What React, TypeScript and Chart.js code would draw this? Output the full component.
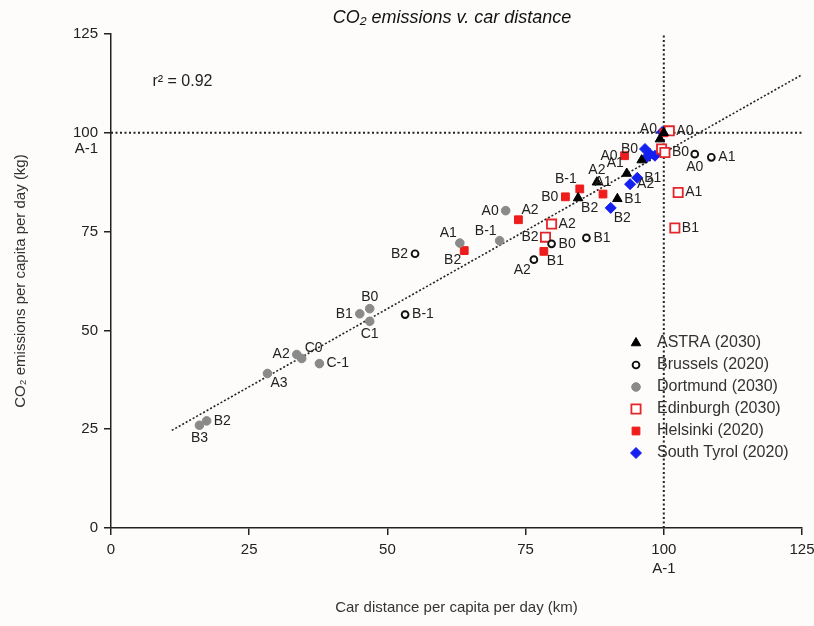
import React, { useEffect, useRef } from 'react';
import { Chart, registerables } from 'chart.js';

Chart.register(...registerables);

const FONT = '"Liberation Sans", Arial, Helvetica, sans-serif';

const chartTitle = 'CO₂ emissions v. car distance';
const xTitle = 'Car distance per capita per day (km)';
const yTitle = 'CO₂ emissions per capita per day (kg)';
const rSquaredText = 'r² = 0.92';
const rSquaredPos = [7.5, 113];
const refLabel = 'A-1';
const refValue = 100;
const axisMin = 0;
const axisMax = 125;
const axisStep = 25;

const seriesNames = ['ASTRA (2030)', 'Brussels (2020)', 'Dortmund (2030)', 'Edinburgh (2030)', 'Helsinki (2020)', 'South Tyrol (2020)'];

const astraX = [100, 99.3, 96.0, 93.3, 87.9, 91.6, 84.5];
const astraY = [100, 98.4, 93.1, 89.7, 87.5, 83.3, 83.5];
const astraLabels = ['', 'A0', '', 'A1', 'A2', 'B1', 'B2'];
const astraPlace = ['', 'tl', '', 'tl', 't', 'r', 'br'];

const brusselsX = [105.6, 108.6, 86.0, 79.7, 76.5, 55.0, 53.2];
const brusselsY = [94.6, 93.8, 73.4, 71.9, 67.9, 69.4, 54.0];
const brusselsLabels = ['A0', 'A1', 'B1', 'B0', 'A2', 'B2', 'B-1'];
const brusselsPlace = ['b', 'r', 'r', 'r', 'bl', 'l', 'r'];

const dortmundX = [71.4, 70.3, 63.1, 46.8, 45.0, 46.8, 33.6, 34.5, 37.7, 28.3, 17.3, 16.0];
const dortmundY = [80.3, 72.7, 72.1, 55.5, 54.2, 52.3, 43.9, 42.9, 41.6, 39.1, 27.1, 26.0];
const dortmundLabels = ['A0', 'B-1', 'A1', 'B0', 'B1', 'C1', 'A2', 'C0', 'C-1', 'A3', 'B2', 'B3'];
const dortmundPlace = ['l', 'tl', 'tl', 't', 'l', 'b', 'l', 'tr', 'r', 'br', 'r', 'b'];

const edinburghX = [101.0, 99.6, 100.2, 102.6, 102.0, 79.7, 78.6];
const edinburghY = [100.5, 95.9, 95.0, 84.9, 75.9, 76.9, 73.6];
const edinburghLabels = ['A0', '', 'B0', 'A1', 'B1', 'A2', 'B2'];
const edinburghPlace = ['r', '', 'r', 'r', 'r', 'r', 'l'];

const helsinkiX = [100, 92.9, 82.2, 84.8, 89.0, 73.7, 78.3, 63.9];
const helsinkiY = [100, 94.2, 83.8, 85.8, 84.5, 78.0, 70.0, 70.2];
const helsinkiLabels = ['', 'A0', 'B0', 'B-1', 'A1', 'A2', 'B1', 'B2'];
const helsinkiPlace = ['', 'l', 'l', 'tl', 't', 'tr', 'br', 'bl'];

const tyrolX = [99.7, 96.6, 97.5, 96.9, 98.4, 95.2, 93.9, 90.4];
const tyrolY = [100.2, 95.9, 94.6, 93.8, 94.2, 88.6, 87.0, 81.0];
const tyrolLabels = ['', 'B0', '', '', '', 'B1', 'A2', 'B2'];
const tyrolPlace = ['', 'l', '', '', '', 'r', 'r', 'br'];

const trendX = [11, 125];
const trendY = [24.7, 114.7];

const refHX = [0, 125];
const refHY = [100, 100];
const refVX = [100, 100];
const refVY = [0, 125];

const toPts = (xs: number[], ys: number[]) => xs.map((x, i) => ({ x, y: ys[i] }));

type Marker = { style: string; radius: number; bg: string; border: string; bw: number };
const markers: Marker[] = [
  { style: 'triangle', radius: 5.5, bg: '#000000', border: '#000000', bw: 1 },
  { style: 'circle', radius: 3.4, bg: '#ffffff', border: '#111111', bw: 1.9 },
  { style: 'circle', radius: 4.3, bg: '#8a8a8a', border: '#8a8a8a', bw: 1 },
  { style: 'rect', radius: 6.5, bg: '#ffffff', border: '#e3262b', bw: 1.8 },
  { style: 'rect', radius: 5.5, bg: '#ee1c1c', border: '#ee1c1c', bw: 1 },
  { style: 'rectRot', radius: 5.5, bg: '#1420f0', border: '#1420f0', bw: 1 },
];

const placeOffsets: Record<string, [number, number, CanvasTextAlign]> = {
  l: [-7, 0, 'right'],
  r: [7, 0, 'left'],
  t: [0, -12, 'center'],
  b: [0, 13, 'center'],
  tl: [-3, -10, 'right'],
  tr: [3, -10, 'left'],
  bl: [-3, 10, 'right'],
  br: [3, 10, 'left'],
};

function drawMarker(ctx: CanvasRenderingContext2D, m: Marker, x: number, y: number) {
  ctx.save();
  ctx.fillStyle = m.bg;
  ctx.strokeStyle = m.border;
  ctx.lineWidth = m.bw;
  ctx.beginPath();
  const r = m.radius;
  if (m.style === 'triangle') {
    ctx.moveTo(x, y - r);
    ctx.lineTo(x + r * 0.866, y + r * 0.5);
    ctx.lineTo(x - r * 0.866, y + r * 0.5);
    ctx.closePath();
  } else if (m.style === 'circle') {
    ctx.arc(x, y, r, 0, Math.PI * 2);
  } else if (m.style === 'rect') {
    const s = r * Math.SQRT1_2;
    ctx.rect(x - s, y - s, 2 * s, 2 * s);
  } else {
    ctx.moveTo(x, y - r);
    ctx.lineTo(x + r, y);
    ctx.lineTo(x, y + r);
    ctx.lineTo(x - r, y);
    ctx.closePath();
  }
  ctx.fill();
  ctx.stroke();
  ctx.restore();
}

const decorPlugin = {
  id: 'decor',
  beforeDraw(chart: any) {
    const ctx = chart.ctx;
    ctx.save();
    ctx.fillStyle = '#fdfcfa';
    ctx.fillRect(0, 0, chart.width, chart.height);
    ctx.restore();
  },
  afterDatasetsDraw(chart: any) {
    const ctx: CanvasRenderingContext2D = chart.ctx;
    const xs = chart.scales.x;
    const ys = chart.scales.y;
    ctx.save();
    // point labels
    ctx.font = '14px ' + FONT;
    ctx.fillStyle = '#222';
    ctx.textBaseline = 'middle';
    chart.data.datasets.forEach((ds: any, di: number) => {
      if (!ds.pointLabels) return;
      const meta = chart.getDatasetMeta(di);
      meta.data.forEach((el: any, i: number) => {
        const t = ds.pointLabels[i];
        if (!t) return;
        const [dx, dy, al] = placeOffsets[ds.labelPlaces[i]] || placeOffsets.r;
        ctx.textAlign = al;
        ctx.fillText(t, el.x + dx, el.y + dy);
      });
    });
    // reference label under y tick 100
    ctx.font = '15px ' + FONT;
    ctx.textAlign = 'right';
    ctx.fillText(refLabel, ys.right - 13, ys.getPixelForValue(refValue) + 16);
    // r squared
    ctx.font = '16px ' + FONT;
    ctx.textAlign = 'left';
    ctx.fillText(rSquaredText, xs.getPixelForValue(rSquaredPos[0]), ys.getPixelForValue(rSquaredPos[1]));
    // title
    ctx.font = 'italic 18px ' + FONT;
    ctx.textAlign = 'center';
    ctx.fillStyle = '#111';
    ctx.fillText(chartTitle, 452, 18);
    // legend
    ctx.font = '16px ' + FONT;
    ctx.textAlign = 'left';
    seriesNames.forEach((name, i) => {
      const y = 343 + i * 22;
      drawMarker(ctx, markers[i], 636, y);
      ctx.fillStyle = '#333';
      ctx.fillText(name, 657, y);
    });
    ctx.restore();
  },
};

export default function App() {
  const ref = useRef<HTMLCanvasElement>(null);
  useEffect(() => {
    if (!ref.current) return;
    const series = [
      [astraX, astraY, astraLabels, astraPlace],
      [brusselsX, brusselsY, brusselsLabels, brusselsPlace],
      [dortmundX, dortmundY, dortmundLabels, dortmundPlace],
      [edinburghX, edinburghY, edinburghLabels, edinburghPlace],
      [helsinkiX, helsinkiY, helsinkiLabels, helsinkiPlace],
      [tyrolX, tyrolY, tyrolLabels, tyrolPlace],
    ] as any[];
    const scatterSets = series.map((s, i) => ({
      type: 'scatter',
      label: seriesNames[i],
      data: toPts(s[0], s[1]),
      pointLabels: s[2],
      labelPlaces: s[3],
      pointStyle: markers[i].style,
      pointRadius: markers[i].radius,
      pointBackgroundColor: markers[i].bg,
      pointBorderColor: markers[i].border,
      pointBorderWidth: markers[i].bw,
      showLine: false,
    }));
    const lineStyle = {
      type: 'line',
      pointRadius: 0,
      fill: false,
      tension: 0,
      borderColor: '#222',
    };
    const chart = new Chart(ref.current, {
      type: 'scatter',
      data: {
        datasets: [
          ...scatterSets,
          { ...lineStyle, label: 'trend', data: toPts(trendX, trendY), borderWidth: 1.6, borderDash: [2, 2] },
          { ...lineStyle, label: 'refH', data: toPts(refHX, refHY), borderWidth: 2, borderDash: [2, 2.5] },
          { ...lineStyle, label: 'refV', data: toPts(refVX, refVY), borderWidth: 2, borderDash: [2, 2.5] },
        ] as any,
      },
      options: {
        responsive: false,
        animation: false,
        devicePixelRatio: 1,
        layout: { padding: { top: 34, right: 12, left: 0, bottom: 0 } },
        plugins: { legend: { display: false }, tooltip: { enabled: false }, title: { display: false } },
        scales: {
          x: {
            type: 'linear',
            min: axisMin,
            max: axisMax,
            ticks: {
              stepSize: axisStep,
              color: '#222',
              font: { family: FONT, size: 15, lineHeight: 1.3 },
              padding: 5,
              maxRotation: 0,
              callback: (v: any) => (v === refValue ? [String(v), refLabel] : String(v)),
            },
            grid: { drawOnChartArea: false, drawTicks: true, tickLength: 7, color: '#222', lineWidth: 1.5 },
            border: { display: true, color: '#222', width: 1.5 },
            title: { display: true, text: xTitle, color: '#333', font: { family: FONT, size: 15 }, padding: { top: 0, bottom: 9 } },
            afterFit: (s: any) => { s.height = 98; s.paddingRight = 12; s.paddingLeft = 0; },
          },
          y: {
            type: 'linear',
            min: axisMin,
            max: axisMax,
            ticks: {
              stepSize: axisStep,
              color: '#222',
              font: { family: FONT, size: 15, lineHeight: 1.3 },
              padding: 6,
            },
            grid: { drawOnChartArea: false, drawTicks: true, tickLength: 7, color: '#222', lineWidth: 1.5 },
            border: { display: true, color: '#222', width: 1.5 },
            title: { display: true, text: yTitle, color: '#333', font: { family: FONT, size: 15 }, padding: { top: 12, bottom: 0 } },
            afterFit: (s: any) => { s.width = 111; },
          },
        },
      } as any,
      plugins: [decorPlugin],
    });
    return () => chart.destroy();
  }, []);
  return (
    <div style={{ position: 'absolute', left: 0, top: 0, width: 814, height: 626 }}>
      <canvas ref={ref} width={814} height={626} style={{ display: 'block' }} />
    </div>
  );
}
